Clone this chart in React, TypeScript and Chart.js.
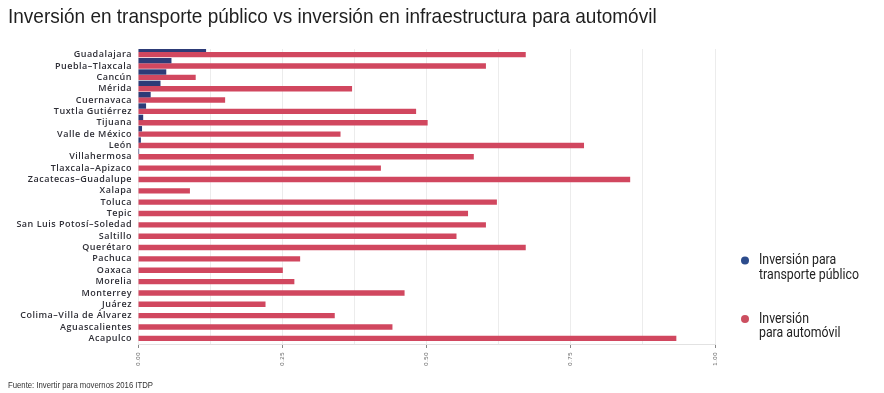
import { useEffect, useRef } from 'react';
import { Chart, registerables } from 'chart.js';

Chart.register(...registerables);

const TITLE = 'Inversión en transporte público vs inversión en infraestructura para automóvil';
const SOURCE = 'Fuente: Invertir para movernos 2016 ITDP';

const categories = [
  'Guadalajara',
  'Puebla–Tlaxcala',
  'Cancún',
  'Mérida',
  'Cuernavaca',
  'Tuxtla Gutiérrez',
  'Tijuana',
  'Valle de México',
  'León',
  'Villahermosa',
  'Tlaxcala–Apizaco',
  'Zacatecas–Guadalupe',
  'Xalapa',
  'Toluca',
  'Tepic',
  'San Luis Potosí–Soledad',
  'Saltillo',
  'Querétaro',
  'Pachuca',
  'Oaxaca',
  'Morelia',
  'Monterrey',
  'Juárez',
  'Colima–Villa de Álvarez',
  'Aguascalientes',
  'Acapulco',
];

const transportePublico = [
  0.118, 0.058, 0.049, 0.039, 0.022, 0.014, 0.009, 0.007, 0.005, 0.002, 0, 0, 0,
  0, 0, 0, 0, 0, 0, 0, 0, 0, 0, 0, 0, 0,
];

const automovil = [
  0.672, 0.603, 0.1, 0.371, 0.151, 0.482, 0.502, 0.351, 0.773, 0.582, 0.421, 0.853, 0.09,
  0.622, 0.572, 0.603, 0.552, 0.672, 0.281, 0.251, 0.271, 0.462, 0.221, 0.341, 0.441, 0.933,
];

// third, empty slot so that the red bar sits centred on its category tick
const emptySlot = categories.map(() => null);

const seriesLabels = ['Inversión para\ntransporte público', 'Inversión\npara automóvil'];
const seriesColors = ['#2d3b77', '#d1475f'];
const legendDotColors = ['#2c4c8c', '#cc4f60'];

const xMin = 0;
const xMax = 1;
const xStep = 0.125;
const labelStep = 0.25;

const isMajor = (v: number) => Math.abs(v / labelStep - Math.round(v / labelStep)) < 1e-6;

const drawScaledText = (
  ctx: CanvasRenderingContext2D,
  text: string,
  x: number,
  y: number,
  font: string,
  sx: number,
) => {
  ctx.save();
  ctx.font = font;
  ctx.translate(x, y);
  ctx.scale(sx, 1);
  ctx.fillText(text, 0, 0);
  ctx.restore();
};

const spacingPlugin = {
  id: 'spacing',
  beforeDraw(chart: any) {
    chart.ctx.letterSpacing = '0.5px';
  },
  beforeDatasetsDraw(chart: any) {
    chart.ctx.letterSpacing = '0px';
  },
};

const textPlugin = {
  id: 'texts',
  afterDraw(chart: any) {
    const { ctx, chartArea } = chart;
    ctx.save();
    ctx.letterSpacing = '0px';
    ctx.textAlign = 'left';
    ctx.textBaseline = 'alphabetic';
    // title
    ctx.fillStyle = '#1f1f1f';
    drawScaledText(ctx, TITLE, 8, 23, '21px "Liberation Sans", Arial, sans-serif', 0.905);
    // source
    ctx.fillStyle = '#333';
    drawScaledText(ctx, SOURCE, 8, 388, '9px "Liberation Sans", Arial, sans-serif', 0.86);
    // legend
    ctx.textBaseline = 'middle';
    chart.data.datasets.slice(0, 2).forEach((ds: any, i: number) => {
      const x0 = chartArea.right + 30;
      const y0 = chartArea.top + 211.5 + i * 58.5;
      ctx.fillStyle = legendDotColors[i];
      ctx.beginPath();
      ctx.arc(x0, y0, 4, 0, Math.PI * 2);
      ctx.fill();
      ctx.fillStyle = '#222';
      String(ds.label)
        .split('\n')
        .forEach((line: string, j: number) =>
          drawScaledText(ctx, line, x0 + 14, y0 + j * 14.5, '14px Roboto, sans-serif', 0.88),
        );
    });
    ctx.restore();
  },
};

export default function App() {
  const ref = useRef<HTMLCanvasElement | null>(null);

  useEffect(() => {
    document.body.style.margin = '0';
    if (!ref.current) return;
    const barOpts = { categoryPercentage: 1.42, barPercentage: 1 };
    const chart = new Chart(ref.current, {
      type: 'bar',
      data: {
        labels: categories,
        datasets: [
          {
            label: seriesLabels[0],
            data: transportePublico,
            backgroundColor: seriesColors[0],
            ...barOpts,
          },
          {
            label: seriesLabels[1],
            data: automovil,
            backgroundColor: seriesColors[1],
            ...barOpts,
          },
          {
            label: '',
            data: emptySlot,
            backgroundColor: 'rgba(0,0,0,0)',
            ...barOpts,
          },
        ],
      },
      options: {
        indexAxis: 'y',
        animation: false,
        responsive: false,
        devicePixelRatio: 1,
        layout: { padding: { left: 8, right: 169, top: 49, bottom: 24 } },
        plugins: {
          legend: { display: false },
          tooltip: { enabled: false },
          title: { display: false },
        },
        scales: {
          x: {
            type: 'linear',
            min: xMin,
            max: xMax,
            afterFit: (s: any) => {
              s.height = 25;
            },
            ticks: {
              stepSize: xStep,
              autoSkip: false,
              minRotation: 90,
              maxRotation: 90,
              padding: 4,
              color: '#666',
              font: { family: 'Liberation Sans', size: 6 },
              callback: (v: any) => (isMajor(Number(v)) ? Number(v).toFixed(2) : ''),
            },
            grid: {
              color: '#ececec',
              lineWidth: 1,
              drawTicks: true,
              tickLength: 4,
              tickColor: (c: any) => (c.tick && isMajor(c.tick.value) ? '#888' : 'rgba(0,0,0,0)'),
            },
            border: { display: true, color: '#e2e2e2' },
          },
          y: {
            afterFit: (s: any) => {
              s.width = 130;
            },
            ticks: {
              autoSkip: false,
              padding: 6,
              color: '#2e2e36',
              font: { family: '"Open Sans"', size: 9, weight: 600 },
            },
            grid: { display: false, drawTicks: false },
            border: { display: false },
          },
        },
      },
      plugins: [spacingPlugin, textPlugin],
    });
    return () => chart.destroy();
  }, []);

  return <canvas ref={ref} width={884} height={393} style={{ display: 'block' }} />;
}
